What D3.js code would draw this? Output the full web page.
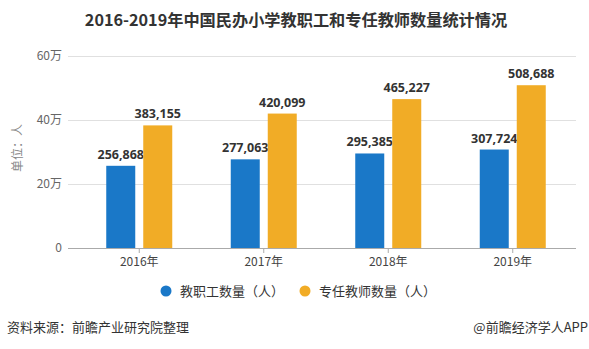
<!DOCTYPE html>
<html><head><meta charset="utf-8">
<script src="https://cdn.jsdelivr.net/npm/d3@7/dist/d3.min.js"></script>
<style>body{margin:0;background:#fff}svg{display:block}</style>
</head><body>
<svg id="c" width="589" height="349"></svg>
<script>
const categories = ["2016年","2017年","2018年","2019年"];
const staff = [256868, 277063, 295385, 307724];
const teachers = [383155, 420099, 465227, 508688];
const seriesNames = ["教职工数量（人）","专任教师数量（人）"];
const yTicks = [0, 200000, 400000, 600000];
const yTickLabels = ["0","20万","40万","60万"];
const colors = ["#1a78c8", "#f1ac26"];
const CJK = "'Noto Sans CJK SC','Microsoft YaHei',sans-serif";

const svg = d3.select("#c");
const y = d3.scaleLinear().domain([0, 600000]).range([248, 56]);
const x = d3.scaleBand().domain(categories).range([77, 575]);

// title
svg.append("text").attr("x", 296).attr("y", 26).attr("text-anchor","middle")
  .attr("font-family", CJK).attr("font-weight", "bold").attr("font-size", 16.2)
  .attr("fill", "#333").text("2016-2019年中国民办小学教职工和专任教师数量统计情况");

// gridlines
svg.append("g").selectAll("line").data(yTicks.slice(1)).join("line")
  .attr("x1", 68).attr("x2", 576).attr("y1", d => y(d)).attr("y2", d => y(d))
  .attr("stroke", "#e0e0e0").attr("stroke-width", 1).attr("shape-rendering","crispEdges");

// y axis labels
const yAxis = d3.axisLeft(y).tickValues(yTicks).tickFormat((d,i) => yTickLabels[i]).tickSize(0).tickPadding(0);
const ya = svg.append("g").attr("transform", "translate(62,0)").call(yAxis);
ya.select(".domain").remove();
ya.selectAll("text").attr("font-family", CJK).attr("font-size", 12).attr("fill", "#666");

// y title
svg.append("text").attr("transform", "translate(22,148) rotate(-90)").attr("text-anchor","middle")
  .attr("font-family", CJK).attr("font-size", 12).attr("fill", "#888").text("单位：人");

// bars
const offs = [-18.5, 18.5];
const bw = 29;
[staff, teachers].forEach((vals, si) => {
  const g = svg.append("g");
  g.selectAll("rect").data(vals).join("rect")
    .attr("x", (d,i) => x(categories[i]) + x.bandwidth()/2 + offs[si] - bw/2)
    .attr("width", bw)
    .attr("y", d => y(d)).attr("height", d => y(0) - y(d))
    .attr("fill", colors[si]);
  g.selectAll("text").data(vals).join("text")
    .attr("x", (d,i) => x(categories[i]) + x.bandwidth()/2 + offs[si])
    .attr("y", d => y(d) - 7)
    .attr("text-anchor", "middle")
    .attr("font-family", "'Open Sans',sans-serif").attr("font-weight", "bold").attr("font-size", 12.5)
    .attr("fill", "#333").text(d => d3.format(",")(d));
});

// x axis
const xa = svg.append("g").attr("transform", "translate(0,248)")
  .call(d3.axisBottom(x).tickSize(5).tickPadding(4));
xa.select(".domain").attr("d", "M68,0.5H576").attr("stroke", "#aaa");
xa.selectAll(".tick line").attr("stroke", "#aaa");
xa.selectAll("text").attr("font-family", CJK).attr("font-size", 12).attr("fill", "#444");

// legend
const leg = [[166, 180], [305, 319]];
seriesNames.forEach((n, i) => {
  svg.append("circle").attr("cx", leg[i][0]).attr("cy", 291).attr("r", 5.5).attr("fill", colors[i]);
  svg.append("text").attr("x", leg[i][1]).attr("y", 296)
    .attr("font-family", CJK).attr("font-size", 13).attr("fill", "#333").text(n);
});

// footer
svg.append("text").attr("x", 7).attr("y", 332).attr("font-family", CJK).attr("font-size", 13)
  .attr("fill", "#333").text("资料来源：前瞻产业研究院整理");
svg.append("text").attr("x", 588).attr("y", 332).attr("text-anchor", "end").attr("font-family", CJK).attr("font-size", 13)
  .attr("fill", "#333").text("@前瞻经济学人APP");
</script>
</body></html>
